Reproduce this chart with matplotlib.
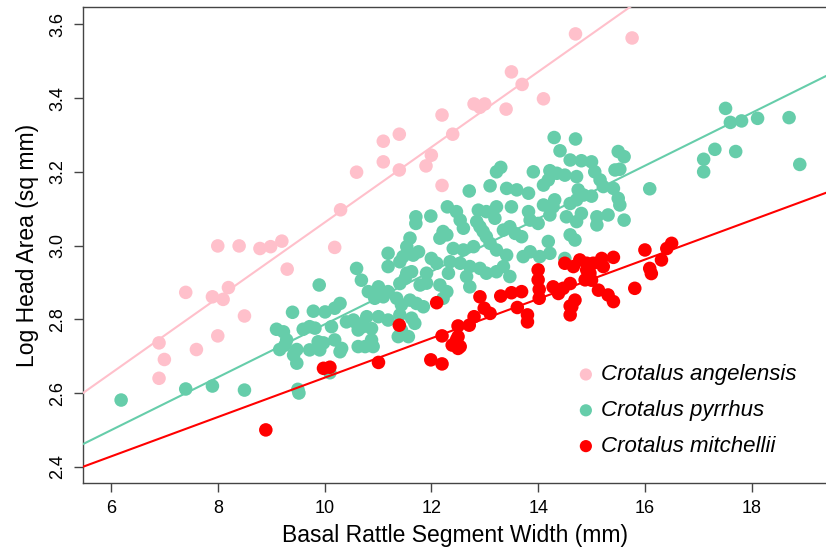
import numpy as np
import matplotlib.pyplot as plt

plt.rcParams['font.family'] = ['Liberation Sans', 'DejaVu Sans']

# Crotalus angelensis (pink)
ang_x = [6.90, 7.00, 6.90, 7.60, 8.00, 8.50, 7.40, 7.90, 8.10, 8.20, 9.30, 8.00, 8.40,
         8.79, 8.99, 9.20, 10.19, 10.30, 10.60, 11.10, 11.40, 11.10, 11.40, 12.40, 11.90,
         12.00, 12.20, 12.20, 12.80, 13.00, 12.91, 13.40, 13.50, 13.70, 14.10, 14.70, 15.76]
ang_y = [2.640, 2.691, 2.736, 2.718, 2.755, 2.809, 2.873, 2.861, 2.854, 2.886, 2.936, 2.999, 2.999,
         2.992, 2.997, 3.012, 2.995, 3.097, 3.199, 3.227, 3.205, 3.283, 3.302, 3.302, 3.216,
         3.245, 3.163, 3.354, 3.384, 3.384, 3.375, 3.370, 3.471, 3.437, 3.398, 3.574, 3.563]

# Crotalus pyrrhus (aquamarine)
pyr_x = [6.19, 7.40, 7.90, 8.50, 9.50, 9.52, 10.10, 9.90, 9.40, 9.79, 10.01, 9.10, 9.23,
         9.60, 9.72, 9.82, 9.29, 9.26, 9.16, 9.48, 9.42, 9.48, 9.72, 9.88, 9.98, 9.91,
         10.13, 10.19, 10.32, 10.29, 10.19, 10.63, 10.63, 10.41, 10.54, 10.29, 10.76, 10.72,
         14.30, 14.70, 14.41, 14.60, 14.81, 15.00, 15.50, 15.61, 15.44, 15.53, 13.91, 13.22,
         13.30, 14.22, 14.35, 14.50, 14.72, 15.06, 15.16, 14.10, 14.19, 13.41, 13.60, 13.82,
         13.10, 12.71, 14.75, 14.85, 15.00, 15.22, 15.41, 15.50, 15.53, 14.72, 14.60, 14.31,
         14.10, 14.28, 13.50, 13.22, 13.03, 12.88, 13.19, 13.82, 13.85, 14.00, 14.22, 14.53,
         14.72, 14.81, 15.10, 15.31, 15.10, 15.61, 12.30, 12.47, 11.71, 11.71, 11.99, 12.54,
         12.60, 12.85, 12.91, 12.97, 13.03, 13.10, 13.35, 13.47, 13.57, 13.69, 14.60, 14.69,
         14.19, 12.22, 12.16, 12.29, 11.60, 11.54, 11.76, 11.66, 12.41, 12.60, 12.79, 13.22,
         13.41, 13.85, 13.72, 14.03, 14.22, 14.50, 11.19, 11.19, 11.41, 11.47, 12.00, 12.10,
         12.35, 12.54, 12.72, 12.91, 13.03, 13.22, 13.47, 13.35, 10.60, 10.69, 11.54, 11.63,
         11.91, 12.32, 12.16, 12.29, 12.66, 12.72, 11.41, 11.51, 11.79, 11.91, 10.82, 11.01,
         11.19, 11.35, 11.44, 11.60, 11.72, 11.85, 12.22, 10.94, 11.10, 10.79, 11.01, 11.19,
         11.41, 11.63, 11.69, 10.60, 10.88, 11.44, 11.57, 11.38, 10.88, 10.91,
         17.51, 17.60, 17.81, 18.11, 18.70, 17.31, 17.10, 17.70, 17.10, 18.90, 16.09]
pyr_y = [2.581, 2.611, 2.619, 2.608, 2.610, 2.600, 2.655, 2.893, 2.819, 2.822, 2.820, 2.773, 2.766,
         2.773, 2.780, 2.776, 2.744, 2.730, 2.718, 2.718, 2.703, 2.681, 2.717, 2.739, 2.736, 2.717,
         2.780, 2.744, 2.721, 2.843, 2.830, 2.771, 2.726, 2.793, 2.798, 2.712, 2.726, 2.780,
         3.293, 3.289, 3.257, 3.232, 3.230, 3.227, 3.255, 3.241, 3.205, 3.207, 3.200, 3.200,
         3.212, 3.203, 3.196, 3.191, 3.187, 3.200, 3.178, 3.164, 3.178, 3.155, 3.151, 3.142,
         3.162, 3.148, 3.151, 3.137, 3.134, 3.160, 3.155, 3.128, 3.110, 3.124, 3.114, 3.124,
         3.110, 3.105, 3.105, 3.105, 3.092, 3.096, 3.074, 3.092, 3.069, 3.060, 3.083, 3.078,
         3.065, 3.087, 3.078, 3.083, 3.056, 3.069, 3.105, 3.092, 3.078, 3.060, 3.080, 3.069,
         3.047, 3.065, 3.051, 3.038, 3.024, 3.006, 3.042, 3.051, 3.033, 3.024, 3.029, 3.015,
         3.011, 3.038, 3.020, 3.029, 3.020, 2.997, 2.983, 2.974, 2.992, 2.988, 2.997, 2.988,
         2.974, 2.983, 2.970, 2.970, 2.979, 2.965, 2.979, 2.943, 2.956, 2.970, 2.965, 2.952,
         2.956, 2.952, 2.943, 2.938, 2.925, 2.929, 2.916, 2.943, 2.938, 2.906, 2.925, 2.929,
         2.925, 2.925, 2.893, 2.875, 2.916, 2.888, 2.897, 2.911, 2.893, 2.898, 2.875, 2.888,
         2.875, 2.857, 2.839, 2.852, 2.843, 2.834, 2.857, 2.857, 2.861, 2.807, 2.807, 2.798,
         2.812, 2.803, 2.789, 2.789, 2.775, 2.771, 2.753, 2.753, 2.744, 2.726,
         3.372, 3.334, 3.338, 3.345, 3.347, 3.261, 3.234, 3.255, 3.200, 3.220, 3.154]

# Crotalus mitchellii (red)
mit_x = [8.90, 9.98, 10.10, 11.01, 11.99, 12.20, 11.40, 12.10, 12.20, 12.39, 12.50, 12.50,
         12.50, 12.71, 12.80, 12.99, 13.10, 12.91, 13.30, 13.50, 13.69, 13.61, 13.80, 13.80,
         14.00, 14.00, 14.02, 14.02, 14.28, 14.38, 14.47, 14.60, 14.50, 14.66, 14.78, 14.91,
         14.91, 14.88, 15.03, 15.19, 15.22, 15.41, 14.97, 15.00, 14.60, 14.69, 14.60, 14.63,
         15.13, 15.31, 15.41, 15.81, 16.00, 16.09, 16.12, 16.31, 16.41, 16.50, 12.47, 12.54]
mit_y = [2.500, 2.667, 2.670, 2.683, 2.690, 2.679, 2.784, 2.845, 2.755, 2.730, 2.721, 2.753,
         2.782, 2.784, 2.807, 2.830, 2.816, 2.861, 2.863, 2.872, 2.875, 2.832, 2.812, 2.793,
         2.934, 2.907, 2.881, 2.857, 2.888, 2.870, 2.884, 2.897, 2.952, 2.943, 2.961, 2.952,
         2.934, 2.907, 2.952, 2.965, 2.943, 2.968, 2.925, 2.906, 2.836, 2.852, 2.812, 2.834,
         2.879, 2.866, 2.848, 2.884, 2.988, 2.938, 2.924, 2.961, 2.992, 3.006, 2.744, 2.726]

# fitted lines: intercept, slope
ang_fit = [2.0404, 0.1022]
pyr_fit = [2.0687, 0.07174]
mit_fit = [2.1076, 0.0534]

species = ['Crotalus angelensis', 'Crotalus pyrrhus', 'Crotalus mitchellii']
cols = ['#FFC0CB', '#66CDAA', '#FF0000']

fig = plt.figure(figsize=(8.26, 5.52), dpi=100)
ax = fig.add_axes([83/826, 1 - 483/552, 744/826, 476/552])

xs = [ang_x, pyr_x, mit_x]
ys = [ang_y, pyr_y, mit_y]
fits = [ang_fit, pyr_fit, mit_fit]
for x, y, c, lab in zip(xs, ys, cols, species):
    ax.scatter(x, y, s=95, color=c, edgecolors='none', label=lab, zorder=2)

xl = np.array([5.476, 19.41])
for f, c in zip(fits, cols):
    ax.plot(xl, f[0] + f[1]*xl, color=c, lw=1.5, zorder=3)

ax.set_xlim(5.476, 19.41)
ax.set_ylim(2.356, 3.647)
ax.set_xticks([6, 8, 10, 12, 14, 16, 18])
ax.set_yticks([2.4, 2.6, 2.8, 3.0, 3.2, 3.4, 3.6])
ax.set_yticklabels(['2.4', '2.6', '2.8', '3.0', '3.2', '3.4', '3.6'], rotation=90, va='center')
ax.tick_params(length=6.3, width=1, color='#444444', labelsize=13, pad=6)
for s in ax.spines.values():
    s.set_color('#444444')
    s.set_linewidth(1)
ax.spines['right'].set_visible(False)

ax.set_xlabel('Basal Rattle Segment Width (mm)', fontsize=16.5, labelpad=5)
ax.set_ylabel('Log Head Area (sq mm)', fontsize=16.5, labelpad=7)

leg = ax.legend(loc='upper left', bbox_to_anchor=(0.652, 0.268), frameon=False,
                prop={'style': 'italic', 'size': 16}, handlelength=0.8, handletextpad=0.3,
                labelspacing=0.667, markerscale=0.9, borderaxespad=0)

fig.savefig('out.png', dpi=100)
